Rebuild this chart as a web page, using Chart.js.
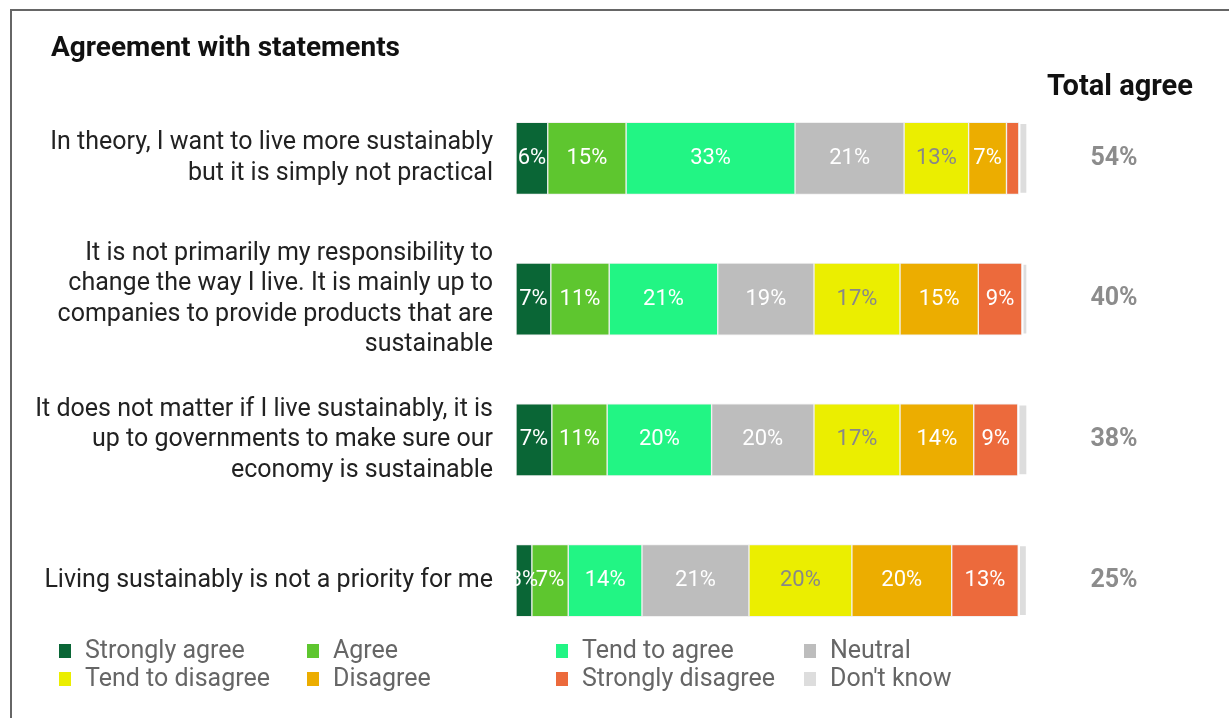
<!DOCTYPE html>
<html>
<head>
<meta charset="utf-8">
<script src="https://cdn.jsdelivr.net/npm/chart.js@4"></script>
<style>
  body { margin: 0; background: #fff; }
  #wrap { position: relative; width: 1229px; height: 718px; overflow: hidden; }
  #frame { position: absolute; left: 10px; top: 9px; width: 1400px; height: 900px; border: 2px solid #666; }
  #box { position: absolute; left: 0; top: 0; width: 1229px; height: 718px; }
</style>
</head>
<body>
<div id="wrap">
  <div id="frame"></div>
  <div id="box"><canvas id="agree"></canvas></div>
</div>
<script>
// statements (multi-line labels)
var statements = [
    ['In theory, I want to live more sustainably', 'but it is simply not practical'],
    ['It is not primarily my responsibility to', 'change the way I live. It is mainly up to', 'companies to provide products that are', 'sustainable'],
    ['It does not matter if I live sustainably, it is', 'up to governments to make sure our', 'economy is sustainable'],
    ['Living sustainably is not a priority for me']
];

var seriesNames = ['Strongly agree', 'Agree', 'Tend to agree', 'Neutral', 'Tend to disagree', 'Disagree', 'Strongly disagree', "Don't know"];
var seriesColors = ['#0a6636', '#5ec62f', '#22f584', '#bdbdbd', '#ebee00', '#ecad00', '#ec6a3c', '#dddddd'];

// shares in % (labels show rounded values)
var stronglyAgree    = [6.2, 6.8, 7.0, 3.1];
var agree            = [15.3, 11.4, 10.8, 7.1];
var tendToAgree      = [33.0, 21.2, 20.4, 14.4];
var neutral          = [21.3, 18.8, 20.0, 20.9];
var tendToDisagree   = [12.6, 16.8, 16.8, 20.1];
var disagree         = [7.4, 15.3, 14.4, 19.5];
var stronglyDisagree = [2.4, 8.5, 8.6, 13.0];
var dontKnow         = [1.8, 1.2, 2.0, 1.8];

var totalAgree = [54, 40, 38, 25];

var seriesValues = [stronglyAgree, agree, tendToAgree, neutral, tendToDisagree, disagree, stronglyDisagree, dontKnow];

var FONT = 'Roboto';

var datasets = seriesNames.map(function (name, i) {
    var last = i === seriesNames.length - 1;
    return {
        label: name,
        data: seriesValues[i],
        backgroundColor: seriesColors[i],
        borderColor: last ? '#ffffff' : 'rgba(240, 240, 240, 0.9)',
        borderWidth: last ? 2 : 1,
        borderSkipped: false,
        barThickness: 72
    };
});

// percent labels inside the segments
var segmentLabels = {
    id: 'segmentLabels',
    afterDatasetsDraw: function (chart) {
        var ctx = chart.ctx;
        ctx.save();
        ctx.font = '22px ' + FONT;
        ctx.textAlign = 'center';
        ctx.textBaseline = 'middle';
        chart.data.datasets.forEach(function (ds, di) {
            var meta = chart.getDatasetMeta(di);
            meta.data.forEach(function (bar, i) {
                var v = ds.data[i];
                if (v < 3 || di === 7) return;
                ctx.fillStyle = di === 4 ? '#888888' : '#ffffff';
                ctx.fillText(Math.round(v) + '%', (bar.x + bar.base) / 2, bar.y);
            });
        });
        ctx.restore();
    }
};

// title, "Total agree" column and bottom legend
var extras = {
    id: 'extras',
    afterDraw: function (chart) {
        var ctx = chart.ctx;
        var y = chart.scales.y;
        ctx.save();
        ctx.textBaseline = 'middle';

        ctx.fillStyle = '#111';
        ctx.font = 'bold 28px ' + FONT;
        ctx.textAlign = 'left';
        ctx.fillText('Agreement with statements', 51, 49);

        ctx.font = 'bold 29px ' + FONT;
        ctx.textAlign = 'center';
        ctx.fillText('Total agree', 1120, 88);

        ctx.font = 'bold 25px ' + FONT;
        ctx.fillStyle = '#8c8c8c';
        totalAgree.forEach(function (t, i) {
            ctx.fillText(t + '%', 1114, y.getPixelForValue(i));
        });

        // legend, 4 columns x 2 rows
        var colX = [59, 307, 556, 804];
        var rowY = [651, 679];
        ctx.font = '25px ' + FONT;
        ctx.textAlign = 'left';
        seriesNames.forEach(function (name, i) {
            var cx = colX[i % 4], cy = rowY[Math.floor(i / 4)];
            ctx.fillStyle = seriesColors[i];
            ctx.fillRect(cx, cy - 7, 12, 14);
            ctx.fillStyle = '#666';
            ctx.fillText(name, cx + 26, cy + 1);
        });
        ctx.restore();
    }
};

var ctx1 = document.getElementById('agree').getContext('2d');
var myChart = new Chart(ctx1, {
    type: 'bar',
    data: {
        labels: statements,
        datasets: datasets
    },
    plugins: [segmentLabels, extras],
    options: {
        indexAxis: 'y',
        responsive: true,
        maintainAspectRatio: false,
        animation: false,
        layout: {
            padding: { top: 88, bottom: 67, left: 0, right: 201 }
        },
        plugins: {
            legend: { display: false },
            tooltip: { enabled: false },
            title: { display: false }
        },
        scales: {
            x: {
                stacked: true,
                min: 0,
                max: 100,
                display: false
            },
            y: {
                stacked: true,
                afterFit: function (scale) {
                    scale.width = 516;
                },
                grid: { display: false, drawTicks: false },
                border: { display: false },
                ticks: {
                    padding: 23,
                    color: '#222',
                    font: { family: FONT, size: 25, lineHeight: 1.22 }
                }
            }
        }
    }
});
</script>
</body>
</html>
